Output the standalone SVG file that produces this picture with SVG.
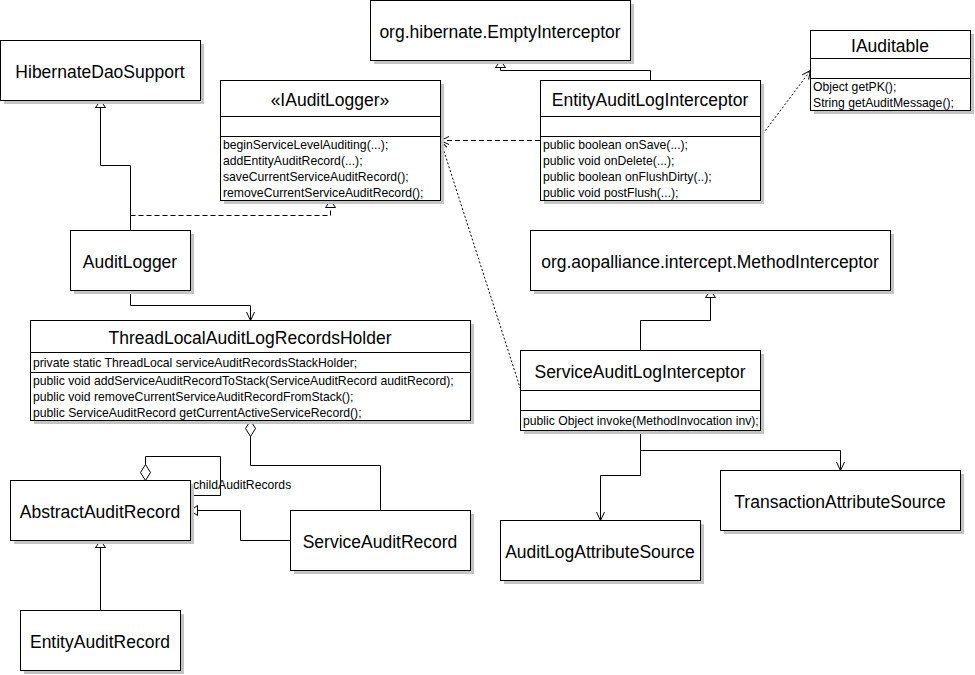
<svg xmlns="http://www.w3.org/2000/svg" width="975" height="675" viewBox="0 0 975 675">
<style>
.sh{fill:#c4c4c4;stroke:none}
.bx{fill:#fff;stroke:#000;stroke-width:1}
.dv{stroke:#000;stroke-width:1}
.t{font-family:"Liberation Sans",Arial,sans-serif;font-size:17.5px;fill:#000;text-anchor:middle}
.m{font-family:"Liberation Sans",Arial,sans-serif;font-size:12.2px;fill:#000}
.c{fill:none;stroke:#000;stroke-width:1}
.d{stroke-dasharray:5,3}
.dt{stroke-dasharray:2,2}
</style>
<defs>
<marker id="open" markerUnits="userSpaceOnUse" markerWidth="12" markerHeight="12" viewBox="-10 -6 12 12" refX="0" refY="0" orient="auto" overflow="visible">
<path d="M-8.5,-4 L0,0 L-8.5,4" fill="none" stroke="#000" stroke-width="1"/>
</marker>
<marker id="tri" markerUnits="userSpaceOnUse" markerWidth="12" markerHeight="12" viewBox="-10 -6 12 12" refX="0" refY="0" orient="auto" overflow="visible">
<path d="M-7,-5 L0,0 L-7,5 Z" fill="#fff" stroke="#000" stroke-width="1"/>
</marker>
<marker id="dia" markerUnits="userSpaceOnUse" markerWidth="20" markerHeight="12" viewBox="-2 -6 20 12" refX="0" refY="0" orient="auto" overflow="visible">
<path d="M0,0 L8,-5 L16,0 L8,5 Z" fill="#fff" stroke="#000" stroke-width="1"/>
</marker>
</defs>
<rect width="975" height="675" fill="#fff"/>

<g id="connectors">
<path class="c" d="M130.5,230 V165.5 H100.5 V100.5" marker-end="url(#tri)"/>
<path class="c d" d="M130.5,215.5 H330.5 V200.5" marker-end="url(#tri)"/>
<path class="c" d="M130.5,290 V305.5 H250.5 V320.5" marker-end="url(#open)"/>
<path class="c d" d="M540,140.5 H440.5" marker-end="url(#open)"/>
<path class="c dt" d="M520.5,389 L440.5,140.5" marker-end="url(#open)"/>
<path class="c" d="M650.5,80 V70.5 H500.5 V60.5" marker-end="url(#tri)"/>
<path class="c dt" d="M760.5,137 L810.5,70.5" marker-end="url(#open)"/>
<path class="c" d="M640.5,350 V320.5 H710.5 V290.5" marker-end="url(#tri)"/>
<path class="c" d="M640.5,430.5 V450.5 H840.5 V470.5" marker-end="url(#open)"/>
<path class="c" d="M640.5,450.5 V475.5 H600.5 V520.5" marker-end="url(#open)"/>
<path class="c" d="M250.5,420.5 V465.5 H380.5 V510" marker-start="url(#dia)"/>
<path class="c" d="M145.5,480.5 V456.5 H220.5 V495.5 H190.5" marker-start="url(#dia)"/>
<text class="m" x="193" y="489">childAuditRecords</text>
<path class="c" d="M290,540.5 H240.5 V510.5 H190.5" marker-end="url(#tri)"/>
<path class="c" d="M100.5,610 V540.5" marker-end="url(#tri)"/>
</g>

<g id="EmptyInterceptor">
<rect class="sh" x="374" y="4" width="260" height="60"/>
<rect class="bx" x="370.5" y="0.5" width="260" height="60"/>
<text class="t" x="500" y="38">org.hibernate.EmptyInterceptor</text>
</g>

<g id="HibernateDaoSupport">
<rect class="sh" x="4" y="44" width="200" height="60"/>
<rect class="bx" x="0.5" y="40.5" width="200" height="60"/>
<text class="t" x="100" y="78">HibernateDaoSupport</text>
</g>

<g id="IAuditLogger">
<rect class="sh" x="224" y="84" width="220" height="120"/>
<rect class="bx" x="220.5" y="80.5" width="220" height="120"/>
<line class="dv" x1="220.5" y1="116.5" x2="440.5" y2="116.5"/>
<line class="dv" x1="220.5" y1="136.5" x2="440.5" y2="136.5"/>
<text class="t" x="330" y="106">«IAuditLogger»</text>
<text class="m" x="223" y="149">beginServiceLevelAuditing(...);</text>
<text class="m" x="223" y="165">addEntityAuditRecord(...);</text>
<text class="m" x="223" y="181">saveCurrentServiceAuditRecord();</text>
<text class="m" x="223" y="197">removeCurrentServiceAuditRecord();</text>
</g>

<g id="EntityAuditLogInterceptor">
<rect class="sh" x="544" y="84" width="220" height="120"/>
<rect class="bx" x="540.5" y="80.5" width="220" height="120"/>
<line class="dv" x1="540.5" y1="116.5" x2="760.5" y2="116.5"/>
<line class="dv" x1="540.5" y1="136.5" x2="760.5" y2="136.5"/>
<text class="t" x="650" y="106">EntityAuditLogInterceptor</text>
<text class="m" x="543" y="149">public boolean onSave(...);</text>
<text class="m" x="543" y="165">public void onDelete(...);</text>
<text class="m" x="543" y="181">public boolean onFlushDirty(..);</text>
<text class="m" x="543" y="197">public void postFlush(...);</text>
</g>

<g id="IAuditable">
<rect class="sh" x="814" y="34" width="160" height="80"/>
<rect class="bx" x="810.5" y="30.5" width="160" height="80"/>
<line class="dv" x1="810.5" y1="58.5" x2="970.5" y2="58.5"/>
<line class="dv" x1="810.5" y1="78.5" x2="970.5" y2="78.5"/>
<text class="t" x="890" y="51.5">IAuditable</text>
<text class="m" x="813" y="91">Object getPK();</text>
<text class="m" x="813" y="107">String getAuditMessage();</text>
</g>

<g id="AuditLogger">
<rect class="sh" x="74" y="234" width="120" height="60"/>
<rect class="bx" x="70.5" y="230.5" width="120" height="60"/>
<text class="t" x="130" y="268">AuditLogger</text>
</g>

<g id="MethodInterceptor">
<rect class="sh" x="534" y="234" width="360" height="60"/>
<rect class="bx" x="530.5" y="230.5" width="360" height="60"/>
<text class="t" x="710" y="268">org.aopalliance.intercept.MethodInterceptor</text>
</g>

<g id="ThreadLocalAuditLogRecordsHolder">
<rect class="sh" x="34" y="324" width="440" height="100"/>
<rect class="bx" x="30.5" y="320.5" width="440" height="100"/>
<line class="dv" x1="30.5" y1="352.5" x2="470.5" y2="352.5"/>
<line class="dv" x1="30.5" y1="372.5" x2="470.5" y2="372.5"/>
<text class="t" x="250" y="344">ThreadLocalAuditLogRecordsHolder</text>
<text class="m" x="33" y="367">private static ThreadLocal serviceAuditRecordsStackHolder;</text>
<text class="m" x="33" y="385">public void addServiceAuditRecordToStack(ServiceAuditRecord auditRecord);</text>
<text class="m" x="33" y="401">public void removeCurrentServiceAuditRecordFromStack();</text>
<text class="m" x="33" y="417">public ServiceAuditRecord getCurrentActiveServiceRecord();</text>
</g>

<g id="ServiceAuditLogInterceptor">
<rect class="sh" x="524" y="354" width="240" height="80"/>
<rect class="bx" x="520.5" y="350.5" width="240" height="80"/>
<line class="dv" x1="520.5" y1="390.5" x2="760.5" y2="390.5"/>
<line class="dv" x1="520.5" y1="410.5" x2="760.5" y2="410.5"/>
<text class="t" x="640" y="378">ServiceAuditLogInterceptor</text>
<text class="m" x="523" y="424.5">public Object invoke(MethodInvocation inv);</text>
</g>

<g id="AbstractAuditRecord">
<rect class="sh" x="14" y="484" width="180" height="60"/>
<rect class="bx" x="10.5" y="480.5" width="180" height="60"/>
<text class="t" x="100" y="518">AbstractAuditRecord</text>
</g>

<g id="ServiceAuditRecord">
<rect class="sh" x="294" y="514" width="180" height="60"/>
<rect class="bx" x="290.5" y="510.5" width="180" height="60"/>
<text class="t" x="380" y="548">ServiceAuditRecord</text>
</g>

<g id="EntityAuditRecord">
<rect class="sh" x="24" y="614" width="160" height="60"/>
<rect class="bx" x="20.5" y="610.5" width="160" height="60"/>
<text class="t" x="100" y="648">EntityAuditRecord</text>
</g>

<g id="TransactionAttributeSource">
<rect class="sh" x="724" y="474" width="240" height="60"/>
<rect class="bx" x="720.5" y="470.5" width="240" height="60"/>
<text class="t" x="840" y="508">TransactionAttributeSource</text>
</g>

<g id="AuditLogAttributeSource">
<rect class="sh" x="504" y="524" width="200" height="60"/>
<rect class="bx" x="500.5" y="520.5" width="200" height="60"/>
<text class="t" x="600" y="558">AuditLogAttributeSource</text>
</g>
</svg>
